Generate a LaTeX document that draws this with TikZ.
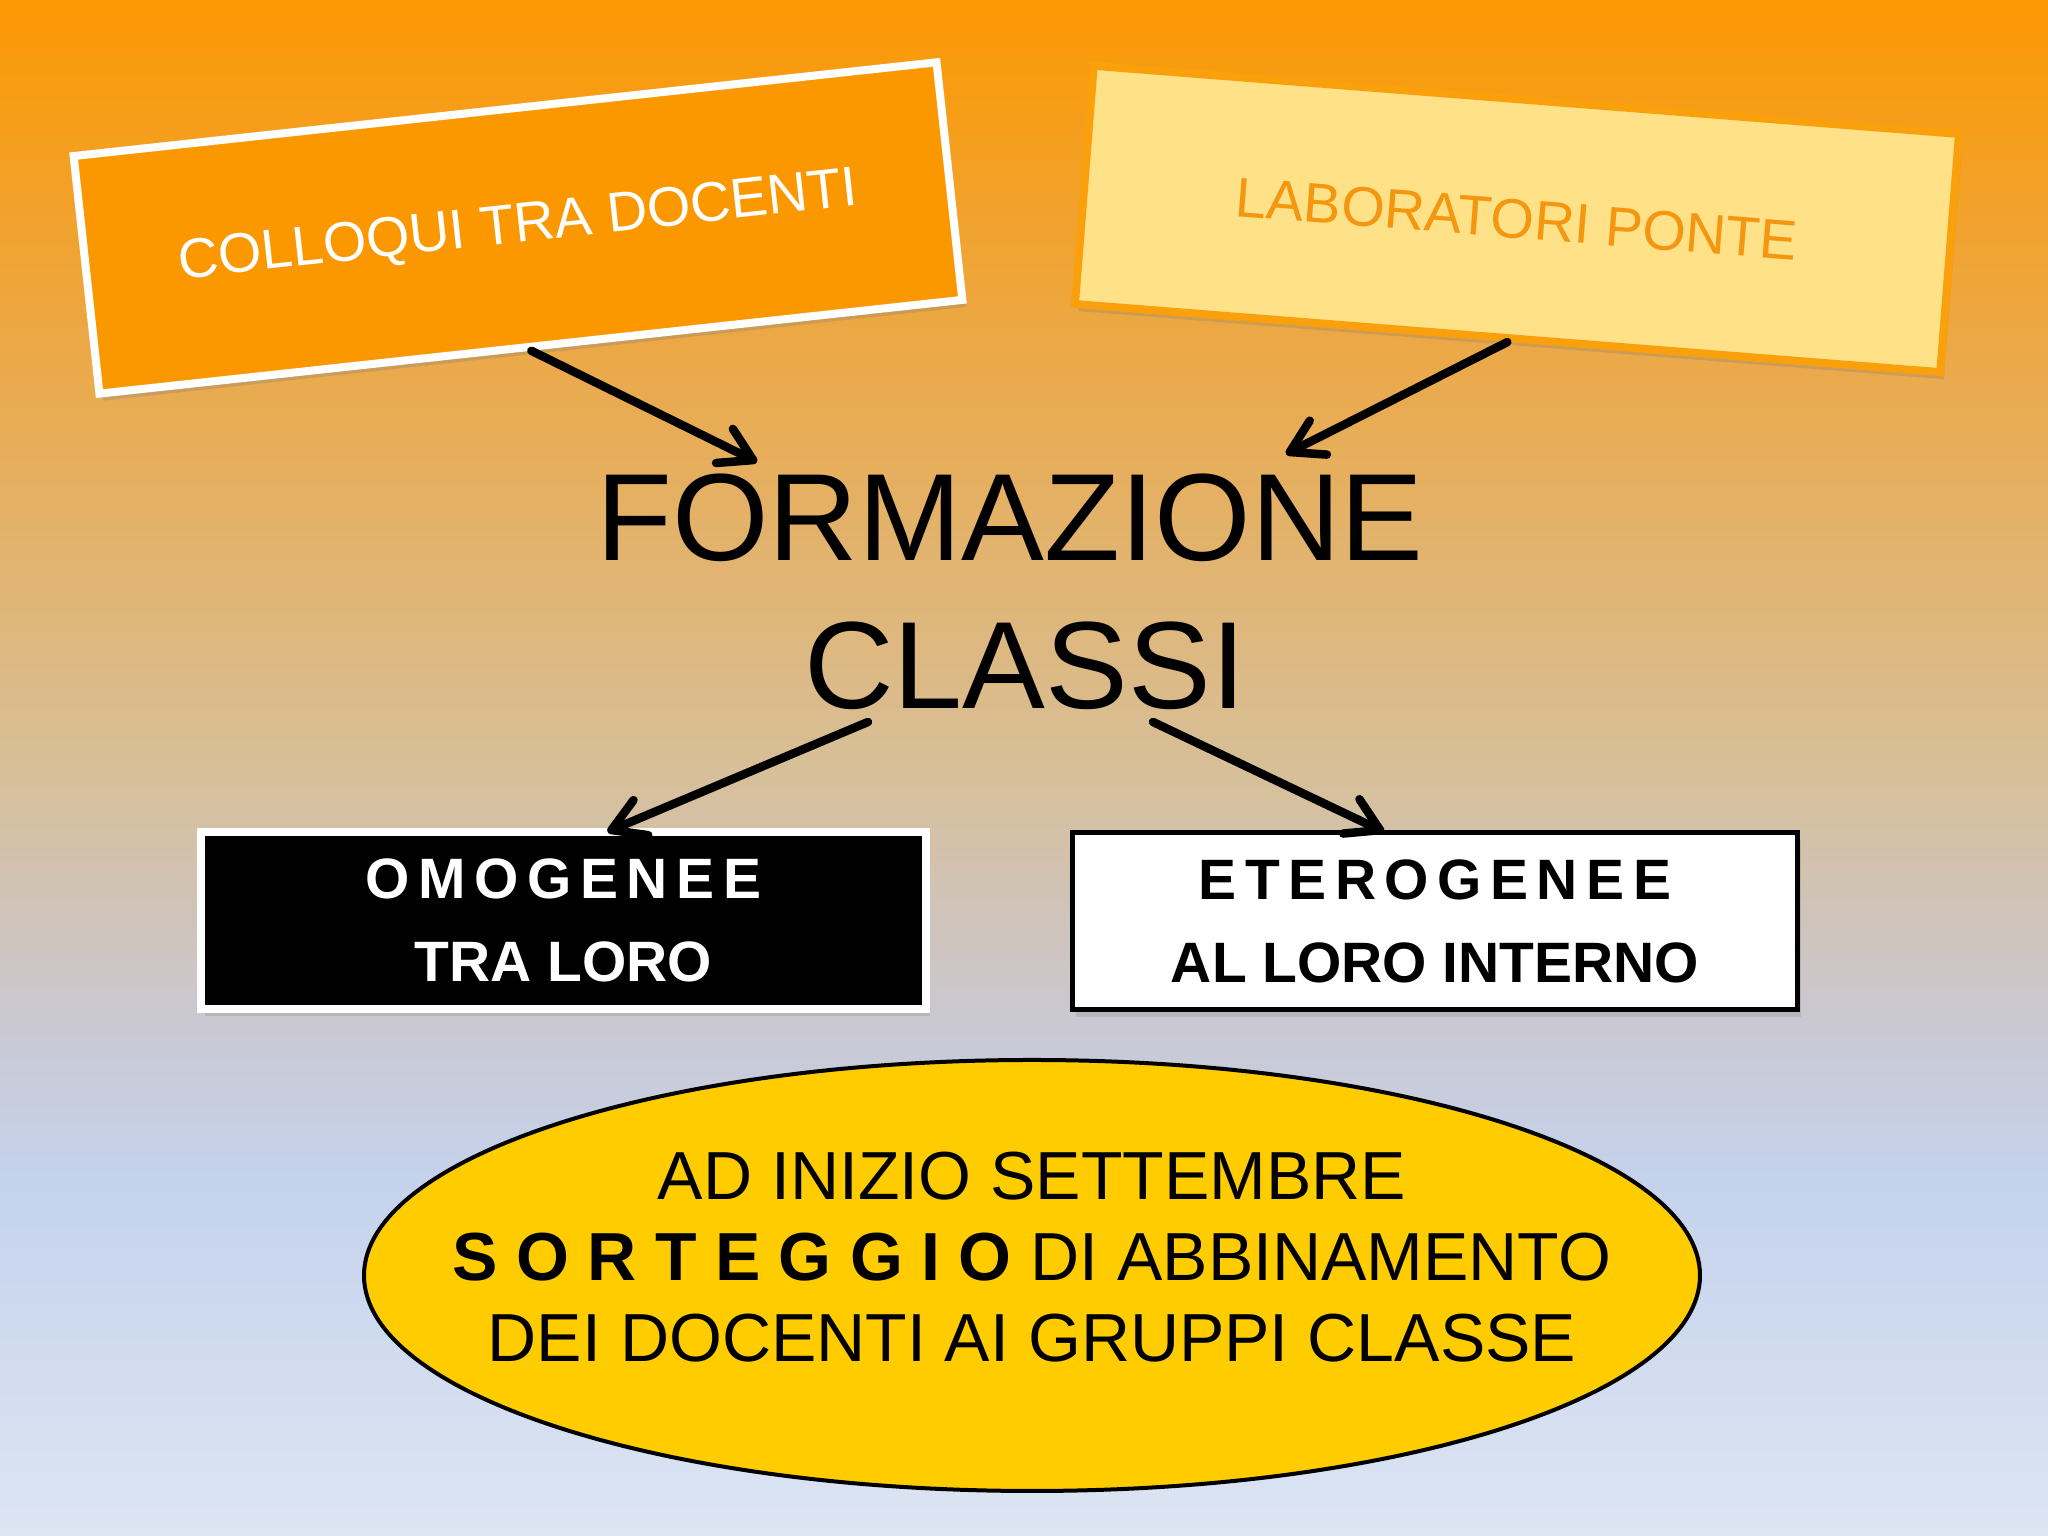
\documentclass[tikz,border=0pt]{standalone}
\usepackage{fontspec}
\setmainfont{Liberation Sans}
\usetikzlibrary{arrows.meta,shadows,shapes.geometric}

\definecolor{bgtop}{RGB}{252,152,2}
\definecolor{bgsand}{RGB}{234,170,78}
\definecolor{bgtan}{RGB}{215,191,152}
\definecolor{bggrey}{RGB}{203,199,206}
\definecolor{bgblue}{RGB}{196,210,236}
\definecolor{bgbot}{RGB}{221,229,243}
\definecolor{colloqfill}{RGB}{251,152,0}
\definecolor{labfill}{RGB}{255,225,136}
\definecolor{labline}{RGB}{250,160,12}
\definecolor{labtext}{RGB}{245,150,16}
\definecolor{sortfill}{RGB}{255,204,0}

\pgfdeclareverticalshading{slidebg}{100bp}{color(0bp)=(bgbot); color(25bp)=(bgbot);
	color(36.6bp)=(bgblue); color(42.4bp)=(bggrey); color(50bp)=(bgtan);
	color(62.5bp)=(bgsand); color(75bp)=(bgtop); color(100bp)=(bgtop)}

\begin{document}
\begin{tikzpicture}[
	tilted/.style={line width=0.08cm, minimum width=8.68cm, minimum height=2.39cm, inner sep=0,
		font=\fontsize{15.9pt}{19pt}\selectfont,
		drop shadow={opacity=0.3, shadow xshift=1pt, shadow yshift=-2pt}},
	colloq/.style={tilted, draw=white, fill=colloqfill, text=white, rotate=6.2},
	labor/.style={tilted, draw=labline, fill=labfill, text=labtext, rotate=-4.5},
	group/.style={minimum width=7.25cm, minimum height=1.77cm, inner sep=0, align=center,
		font=\fontsize{16.2pt}{23.6pt}\selectfont\bfseries,
		drop shadow={opacity=0.25, shadow xshift=1pt, shadow yshift=-2pt}},
	omog/.style={group, draw=white, line width=0.085cm, fill=black, text=white},
	eterog/.style={group, draw=black, line width=0.05cm, fill=white, text=black},
	sorteg/.style={ellipse, draw=black, line width=0.04cm, fill=sortfill,
		minimum width=13.36cm, minimum height=4.31cm, inner sep=0},
	link/.style={line width=0.085cm, line cap=round,
		-{Straight Barb[length=0.32cm, width=0.38cm, round]}}
]
	\useasboundingbox (0,0) rectangle (20.48,15.36);
	\shade[shading=slidebg] (0,0) rectangle (20.48,15.36);

	\node[colloq] (colloqui) at (5.18,13.08) {COLLOQUI TRA DOCENTI};
	\node[labor] (labor) at (15.17,13.17) {LABORATORI PONTE};

	\node[inner sep=0, align=center, font=\fontsize{35.3pt}{42.1pt}\selectfont] (form) at (10.10,9.44)
		{FORMAZIONE\\\hspace*{0.3cm}CLASSI};

	\node[omog] (omogenee) at (5.635,6.155)
		{{\addfontfeatures{LetterSpace=15}OMOGENEE}\\TRA LORO};
	\node[eterog] (eterogenee) at (14.35,6.15)
		{{\addfontfeatures{LetterSpace=15}ETEROGENEE}\\AL LORO INTERNO};

	\node[sorteg] (sorteggio) at (10.32,2.605) {};
	\node[inner sep=0, align=center, font=\fontsize{19.35pt}{23.05pt}\selectfont] (sorttext)
		at ([yshift=0.18cm]sorteggio.center)
		{AD INIZIO SETTEMBRE\\
		{\bfseries\addfontfeatures{LetterSpace=27}SORTEGGIO} DI ABBINAMENTO\\
		DEI DOCENTI AI GRUPPI CLASSE};

	\draw[link] (colloqui.south) -- ([shift={(-2.53,1.30)}]form.center);
	\draw[link] (labor.south) -- ([shift={(2.76,1.38)}]form.center);
	\draw[link] ([shift={(-1.42,-1.30)}]form.center) -- ([shift={(0.44,-0.04)}]omogenee.north);
	\draw[link] ([shift={(1.43,-1.30)}]form.center) -- ([shift={(-0.51,-0.02)}]eterogenee.north);
\end{tikzpicture}
\end{document}
